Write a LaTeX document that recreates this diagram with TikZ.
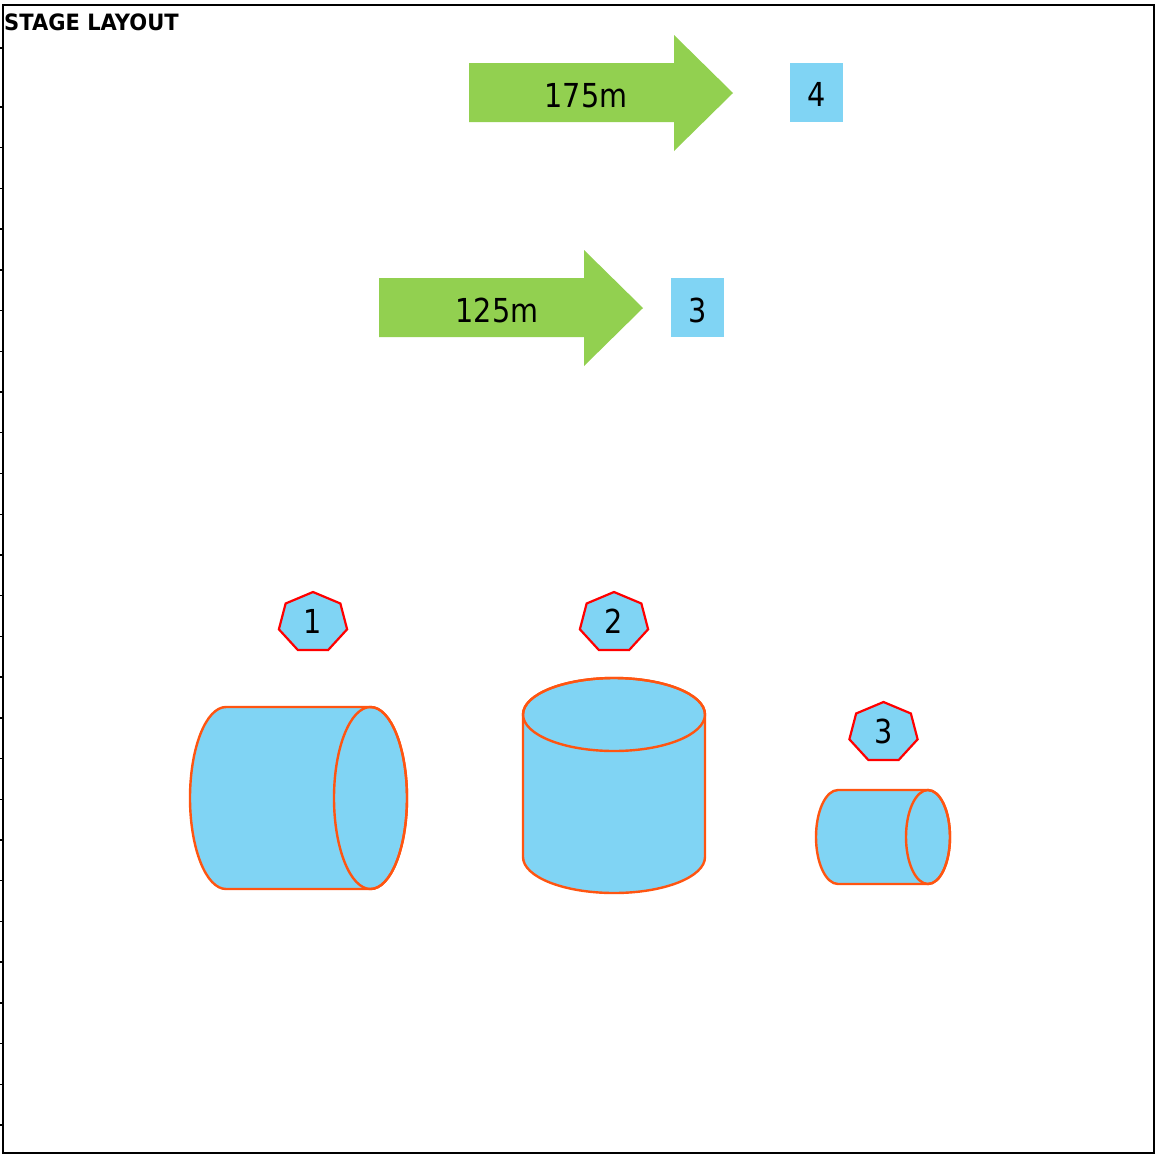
\documentclass[tikz,border=0pt]{standalone}
\usepackage{fontspec}
\newfontfamily\labfont{DejaVu Sans}[FakeStretch=0.87]
\newfontfamily\titlefont{DejaVu Sans}[FakeStretch=0.935,BoldFont={DejaVu Sans Bold}]
\definecolor{stageblue}{HTML}{80D4F4}
\definecolor{stagegreen}{HTML}{92D050}
\definecolor{cylorange}{HTML}{FF5511}
\definecolor{heptred}{HTML}{FF0000}
\tikzset{
  lab/.style={font=\labfont\fontsize{33}{36}\selectfont, inner sep=0pt, anchor=base, text=black},
  greenarrow/.style={fill=stagegreen},
  bluebox/.style={fill=stageblue},
  cyl/.style={fill=stageblue, draw=cylorange, line width=2.4pt, line join=round},
  hept/.style={fill=stageblue, draw=heptred, line width=2.2pt, line join=miter},
  tick/.style={line width=1.4pt, draw=black}
}
\newcommand\drawhept[2]{%
  \begin{scope}[shift={(#1,#2)}]
    \path[hept] (-90:35 and 30.5) -- (-38.571:35 and 30.5) -- (12.857:35 and 30.5) -- (64.286:35 and 30.5) -- (115.714:35 and 30.5) -- (167.143:35 and 30.5) -- (218.571:35 and 30.5) -- cycle;
  \end{scope}}
\begin{document}
\begin{tikzpicture}[x=1pt,y=-1pt]
\useasboundingbox (0,0) rectangle (1156,1154);
\fill[white] (0,0) rectangle (1156,1154);
% frame
\draw[line width=2pt] (3,5) rectangle (1153.5,1152.5);
\draw[tick] (0,48) -- (3,48);
\foreach \k in {0,...,25} { \draw[tick] (0,107+40.72*\k) -- (3,107+40.72*\k); }
\node[font=\titlefont\bfseries\fontsize{22.5}{26}\selectfont, inner sep=0pt, anchor=base west] (title) at (4,30) {STAGE LAYOUT};
% arrow 175m
\path[greenarrow] (469,63) -- (674,63) -- (674,35) -- (733,93) -- (674,151) -- (674,122) -- (469,122) -- cycle;
\node[lab] (a175) at (586,107) {175m};
\path[bluebox] (790,63) rectangle (843,122);
\node[lab] (b4) at (816.5,106) {4};
% arrow 125m
\path[greenarrow] (379,278) -- (584,278) -- (584,250) -- (643,308) -- (584,366) -- (584,337) -- (379,337) -- cycle;
\node[lab] (a125) at (497,322) {125m};
\path[bluebox] (671,278) rectangle (724,337);
\node[lab] (b3) at (697.5,322) {3};
% heptagons
\drawhept{313}{622.5}
\node[lab] (h1) at (313,633) {1};
\drawhept{614}{622.5}
\node[lab] (h2) at (614,633) {2};
\drawhept{883.5}{732.5}
\node[lab] (h3) at (883.5,743) {3};
% cylinder 1 (horizontal)
\path[cyl] (226,707) arc[start angle=270, end angle=90, x radius=36, y radius=91] -- (370.5,889) arc[start angle=90, end angle=-90, x radius=36.5, y radius=91] -- cycle;
\draw[cyl, fill=none] (370.5,798) ellipse[x radius=36.5, y radius=91];
% cylinder 2 (vertical)
\path[cyl] (523,714.5) -- (523,857) arc[start angle=180, end angle=0, x radius=91, y radius=36] -- (705,714.5) arc[start angle=0, end angle=-180, x radius=91, y radius=36.5] -- cycle;
\draw[cyl, fill=none] (614,714.5) ellipse[x radius=91, y radius=36.5];
% cylinder 3 (horizontal, small)
\path[cyl] (838,790) arc[start angle=270, end angle=90, x radius=22, y radius=47] -- (928,884) arc[start angle=90, end angle=-90, x radius=22, y radius=47] -- cycle;
\draw[cyl, fill=none] (928,837) ellipse[x radius=22, y radius=47];
\end{tikzpicture}
\end{document}
